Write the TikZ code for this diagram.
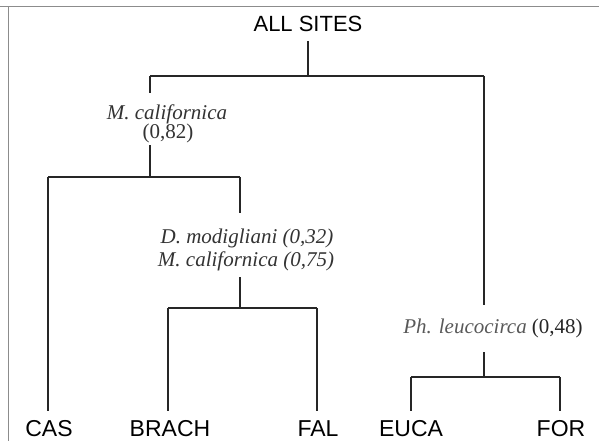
\documentclass[tikz,border=0pt]{standalone}
\usepackage{fontspec}
\setmainfont{Liberation Serif}
\newfontfamily\sitefont{Liberation Sans}
\begin{document}
\begin{tikzpicture}[x=1pt,y=-1pt,
  branch/.style={draw=black!85,line width=1.1pt},
  frameline/.style={draw=black!45,line width=1pt},
  rootlbl/.style={font=\sitefont\fontsize{22}{26}\selectfont,inner sep=0pt,text depth=0pt,anchor=base,outer ysep=9pt},
  leaflbl/.style={font=\sitefont\fontsize{23}{27}\selectfont,inner sep=0pt,text depth=0pt,anchor=base,outer ysep=9pt},
  splitlbl/.style={font=\fontsize{21}{24}\selectfont,inner sep=0pt,anchor=base,text=black!80},
  graylbl/.style={splitlbl,text=black!65}]
\useasboundingbox (0,0) rectangle (599,441);
% frame remnants
\draw[frameline] (0,7) -- (599,7);
\draw[frameline] (8,7) -- (8,441);
% labels
\node[rootlbl] (all) at (308,32) {ALL SITES};
\node[splitlbl] (mca) at (167,119) {\textit{M. californica}};
\node[splitlbl] (mcb) at (168,138) {(0,82)};
\node[splitlbl] (dm) at (247,243) {\textit{D. modigliani (0,32)}};
\node[splitlbl] (mcc) at (246,266) {\textit{M. californica (0,75)}};
\node[graylbl] (ph) at (493,333) {\textit{Ph. leucocirca} \textcolor{black!85}{(0,48)}};
\node[leaflbl] (cas) at (49,436) {CAS};
\node[leaflbl] (brach) at (170,436) {BRACH};
\node[leaflbl] (fal) at (318,436) {FAL};
\node[leaflbl] (euca) at (411,436) {EUCA};
\node[leaflbl] (for) at (561,436) {FOR};
% junction coordinates
\coordinate (j0) at (308,76);
\coordinate (j0l) at (150,76);
\coordinate (j0r) at (484,76);
\coordinate (a1) at (150,93);
\coordinate (a2) at (150,145);
\coordinate (j1) at (150,177);
\coordinate (j1l) at (48,177);
\coordinate (j1r) at (240,177);
\coordinate (b1) at (240,213);
\coordinate (b2) at (240,277);
\coordinate (j2) at (240,308);
\coordinate (j2l) at (168,308);
\coordinate (j2r) at (317,308);
\coordinate (c1) at (484,305);
\coordinate (c2) at (484,352);
\coordinate (j3) at (484,377);
\coordinate (j3l) at (411,377);
\coordinate (j3r) at (560,377);
% connectors
\draw[branch] (all.south) -- (j0);
\draw[branch] (j0l) -- (j0r);
\draw[branch] (j0l) -- (a1);
\draw[branch] (a2) -- (j1);
\draw[branch] (j1l) -- (j1r);
\draw[branch] (j1l) -- (j1l |- cas.north);
\draw[branch] (j1r) -- (b1);
\draw[branch] (b2) -- (j2);
\draw[branch] (j2l) -- (j2r);
\draw[branch] (j2l) -- (j2l |- brach.north);
\draw[branch] (j2r) -- (j2r |- fal.north);
\draw[branch] (j0r) -- (c1);
\draw[branch] (c2) -- (j3);
\draw[branch] (j3l) -- (j3r);
\draw[branch] (j3l) -- (j3l |- euca.north);
\draw[branch] (j3r) -- (j3r |- for.north);
\end{tikzpicture}
\end{document}
